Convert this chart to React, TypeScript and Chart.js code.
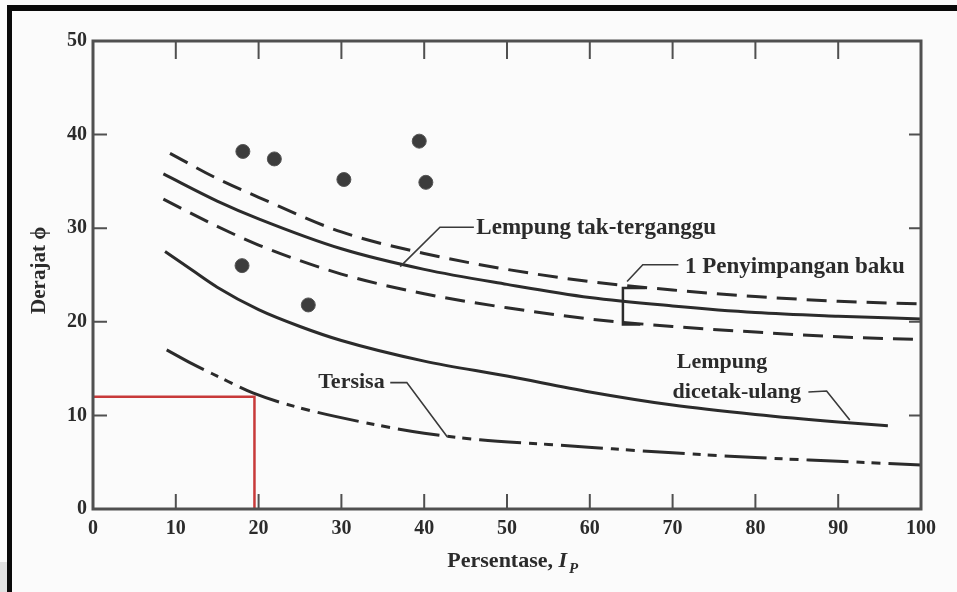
import React, { useEffect, useRef } from "react";
import { Chart, registerables } from "chart.js";

Chart.register(...registerables);

// ---- data ----
const upperDevX = [9.3, 15, 20, 30, 40, 50, 60, 70, 80, 90, 100];
const upperDevY = [38.0, 35.3, 33.3, 29.6, 27.3, 25.6, 24.3, 23.4, 22.7, 22.2, 21.9];
const undisturbedX = [8.5, 15, 20, 30, 40, 50, 60, 70, 80, 90, 100];
const undisturbedY = [35.8, 32.9, 31.0, 27.8, 25.6, 24.0, 22.6, 21.7, 21.0, 20.6, 20.3];
const lowerDevX = [8.5, 15, 20, 30, 40, 50, 60, 70, 80, 90, 100];
const lowerDevY = [33.1, 30.2, 28.2, 25.1, 23.0, 21.5, 20.3, 19.5, 18.9, 18.4, 18.1];
const remoldedX = [8.7, 12, 15, 20, 25, 30, 40, 50, 60, 70, 80, 90, 96];
const remoldedY = [27.5, 25.5, 23.7, 21.3, 19.5, 18.0, 15.8, 14.2, 12.5, 11.1, 10.1, 9.3, 8.9];
const residualX = [8.9, 12, 15, 19.3, 25, 33, 40, 46.7, 55, 70, 80, 90, 100];
const residualY = [17.0, 15.5, 14.2, 12.4, 10.8, 9.2, 8.1, 7.4, 6.9, 6.0, 5.5, 5.1, 4.7];
const pointsX = [18.1, 21.9, 30.3, 39.4, 40.2, 18.0, 26.0];
const pointsY = [38.2, 37.4, 35.2, 39.3, 34.9, 26.0, 21.8];
const redGuideX = [0, 19.5, 19.5];
const redGuideY = [12, 12, 0];

const xTicks = [0, 10, 20, 30, 40, 50, 60, 70, 80, 90, 100];
const yTicks = [0, 10, 20, 30, 40, 50];
const innerTicksX = [10, 20, 30, 40, 50, 60, 70, 80, 90];
const innerTicksY = [10, 20, 30, 40];

const xTitle = "Persentase, ";
const xTitleVar = "I";
const xTitleSub = "P";
const yTitle = "Derajat ϕ";

const labelUndisturbed = "Lempung tak-terganggu";
const labelDeviation = "1 Penyimpangan baku";
const labelRemolded1 = "Lempung";
const labelRemolded2 = "dicetak-ulang";
const labelResidual = "Tersisa";

// annotation anchor points in data units
const leaderUndisturbedX = [37.1, 41.9, 46.0];
const leaderUndisturbedY = [25.9, 30.1, 30.1];
const leaderDeviationX = [64.5, 66.4, 70.7];
const leaderDeviationY = [24.3, 26.1, 26.1];
const bracketX = [66.7, 64.0, 64.0, 66.1];
const bracketY = [23.6, 23.6, 19.7, 19.7];
const leaderRemoldedX = [86.4, 88.6, 91.4];
const leaderRemoldedY = [12.5, 12.6, 9.5];
const leaderResidualX = [35.9, 37.9, 42.8];
const leaderResidualY = [13.5, 13.5, 7.7];

const toXY = (xs: number[], ys: number[]) => xs.map((x, i) => ({ x, y: ys[i] }));

const FONT = "'Liberation Serif', 'DejaVu Serif', serif";
const INK = "#2b2b2b";

export default function App() {
  const ref = useRef<HTMLCanvasElement | null>(null);

  useEffect(() => {
    document.body.style.margin = "0";
    const canvas = ref.current;
    if (!canvas) return;

    const decor = {
      id: "decor",
      beforeDraw(chart: any) {
        const { ctx, width, height } = chart;
        ctx.save();
        ctx.fillStyle = "#fbfbfb";
        ctx.fillRect(0, 0, width, height);
        ctx.fillStyle = "#e2e2e2";
        ctx.fillRect(0, 562, 7, 30);
        ctx.fillStyle = "#0a0a0a";
        ctx.fillRect(7, 5, width - 7, 6);
        ctx.fillRect(7, 5, 5, height - 5);
        ctx.restore();
      },
      afterDraw(chart: any) {
        const { ctx, chartArea: a } = chart;
        const xs = chart.scales.x;
        const ys = chart.scales.y;
        const px = (v: number) => xs.getPixelForValue(v);
        const py = (v: number) => ys.getPixelForValue(v);
        ctx.save();
        // frame
        ctx.strokeStyle = "#505050";
        ctx.lineWidth = 3;
        ctx.strokeRect(a.left, a.top, a.right - a.left, a.bottom - a.top);
        // inner ticks
        ctx.lineWidth = 2;
        innerTicksX.forEach((v) => {
          const x = px(v);
          ctx.beginPath();
          ctx.moveTo(x, a.bottom);
          ctx.lineTo(x, a.bottom - 15);
          ctx.moveTo(x, a.top);
          ctx.lineTo(x, a.top + 18);
          ctx.stroke();
        });
        innerTicksY.forEach((v) => {
          const y = py(v);
          ctx.beginPath();
          ctx.moveTo(a.left, y);
          ctx.lineTo(a.left + 14, y);
          ctx.moveTo(a.right, y);
          ctx.lineTo(a.right - 12, y);
          ctx.stroke();
        });
        // leaders
        ctx.strokeStyle = "#3a3a3a";
        ctx.lineWidth = 1.6;
        const poly = (xsA: number[], ysA: number[]) => {
          ctx.beginPath();
          xsA.forEach((v, i) => {
            if (i === 0) ctx.moveTo(px(v), py(ysA[i]));
            else ctx.lineTo(px(v), py(ysA[i]));
          });
          ctx.stroke();
        };
        poly(leaderUndisturbedX, leaderUndisturbedY);
        poly(leaderDeviationX, leaderDeviationY);
        poly(leaderRemoldedX, leaderRemoldedY);
        poly(leaderResidualX, leaderResidualY);
        ctx.lineWidth = 2.5;
        ctx.strokeStyle = INK;
        poly(bracketX, bracketY);
        // labels
        ctx.fillStyle = INK;
        ctx.textBaseline = "middle";
        ctx.textAlign = "left";
        ctx.font = `bold 23px ${FONT}`;
        ctx.fillText(labelUndisturbed, px(46.3), py(30.05));
        ctx.fillText(labelDeviation, px(71.5), py(25.9));
        ctx.font = `bold 22px ${FONT}`;
        ctx.fillText(labelRemolded1, px(70.5), py(15.7));
        ctx.fillText(labelRemolded2, px(70.0), py(12.5));
        ctx.fillText(labelResidual, px(27.2), py(13.5));
        // x title
        ctx.textBaseline = "alphabetic";
        ctx.font = `bold 22px ${FONT}`;
        const w1 = ctx.measureText(xTitle).width;
        ctx.font = `italic bold 22px ${FONT}`;
        const w2 = ctx.measureText(xTitleVar).width;
        ctx.font = `italic bold 15px ${FONT}`;
        const w3 = ctx.measureText(xTitleSub).width;
        const total = w1 + w2 + w3 + 2;
        let sx = px(50.7) - total / 2;
        const base = a.bottom + 58;
        ctx.font = `bold 22px ${FONT}`;
        ctx.fillText(xTitle, sx, base);
        sx += w1;
        ctx.font = `italic bold 22px ${FONT}`;
        ctx.fillText(xTitleVar, sx, base);
        sx += w2 + 2;
        ctx.font = `italic bold 15px ${FONT}`;
        ctx.fillText(xTitleSub, sx, base + 6);
        // y title
        ctx.translate(a.left - 53, py(25.5));
        ctx.rotate(-Math.PI / 2);
        ctx.textAlign = "center";
        ctx.textBaseline = "middle";
        ctx.font = `bold 21px ${FONT}`;
        ctx.fillText(yTitle, 0, 0);
        ctx.restore();
      },
    };

    const lineDs = (label: string, xs: number[], ys: number[], dash: number[], color = INK, width = 3) => ({
      type: "line" as const,
      label,
      data: toXY(xs, ys),
      showLine: true,
      borderColor: color,
      borderWidth: width,
      borderDash: dash,
      pointRadius: 0,
      fill: false,
      cubicInterpolationMode: "monotone" as const,
    });

    const chart = new Chart(canvas, {
      type: "scatter",
      data: {
        datasets: [
          lineDs("Upper deviation", upperDevX, upperDevY, [20, 10]),
          lineDs("Lempung tak-terganggu", undisturbedX, undisturbedY, []),
          lineDs("Lower deviation", lowerDevX, lowerDevY, [20, 10]),
          lineDs("Lempung dicetak-ulang", remoldedX, remoldedY, []),
          lineDs("Tersisa", residualX, residualY, [42, 8, 8, 7, 9, 8]),
          { ...lineDs("Guide", redGuideX, redGuideY, [], "#c83a3a", 2.5), cubicInterpolationMode: "default" as const, tension: 0 },
          {
            type: "scatter" as const,
            label: "Data",
            data: toXY(pointsX, pointsY),
            pointRadius: 7,
            pointBackgroundColor: "#3c3c3c",
            pointBorderColor: "#555",
            pointBorderWidth: 1,
            showLine: false,
          },
        ] as any,
      },
      options: {
        responsive: false,
        animation: false,
        layout: { padding: { left: 0, top: 41, right: 36, bottom: 0 } },
        plugins: { legend: { display: false }, tooltip: { enabled: false } },
        scales: {
          x: {
            type: "linear",
            min: 0,
            max: 100,
            afterBuildTicks: (s: any) => {
              s.ticks = xTicks.map((v) => ({ value: v }));
            },
            afterFit: (s: any) => {
              s.height = 83;
            },
            ticks: {
              padding: 8,
              color: INK,
              font: { family: FONT, size: 20, weight: "bold" },
              maxRotation: 0,
            },
            grid: { display: false, drawTicks: false },
            border: { display: false },
          },
          y: {
            type: "linear",
            min: 0,
            max: 50,
            afterBuildTicks: (s: any) => {
              s.ticks = yTicks.map((v) => ({ value: v }));
            },
            afterFit: (s: any) => {
              s.width = 93;
            },
            ticks: {
              padding: 6,
              color: INK,
              font: { family: FONT, size: 20, weight: "bold" },
            },
            grid: { display: false, drawTicks: false },
            border: { display: false },
          },
        },
      },
      plugins: [decor],
    } as any);

    return () => chart.destroy();
  }, []);

  return <canvas ref={ref} width={957} height={592} style={{ display: "block", width: 957, height: 592 }} />;
}
